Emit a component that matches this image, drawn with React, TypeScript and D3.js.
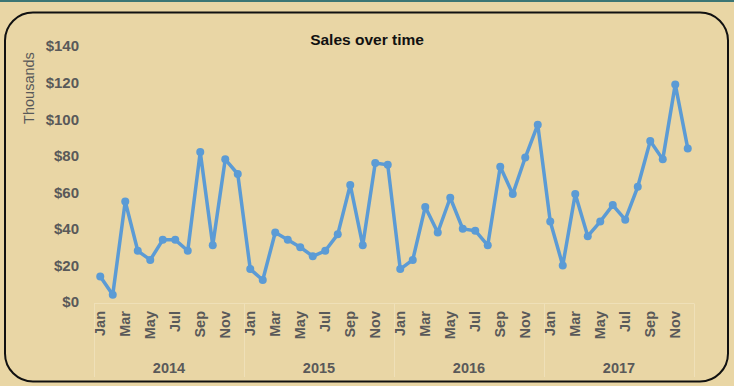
import React from "react";
import * as d3 from "d3";

const years = ["2014", "2015", "2016", "2017"];
const months = ["Jan", "Feb", "Mar", "Apr", "May", "Jun", "Jul", "Aug", "Sep", "Oct", "Nov", "Dec"];

// monthly sales, in thousands of dollars
const sales2014 = [14, 4, 55, 28, 23, 34, 34, 28, 82, 31, 78, 70];
const sales2015 = [18, 12, 38, 34, 30, 25, 28, 37, 64, 31, 76, 75];
const sales2016 = [18, 23, 52, 38, 57, 40, 39, 31, 74, 59, 79, 97];
const sales2017 = [44, 20, 59, 36, 44, 53, 45, 63, 88, 78, 119, 84];

const yTicks = [0, 20, 40, 60, 80, 100, 120, 140];

const W = 734;
const H = 386;
const BG = "#E9D6A5";
const AXIS = "#595959";
const LINE = "#5B9BD5";
const FONT = "'Liberation Sans', Arial, sans-serif";

export default function App() {
  const series = [sales2014, sales2015, sales2016, sales2017];
  const data = years.flatMap((yr, i) =>
    months.map((m, j) => ({ key: `${yr}-${m}`, year: yr, month: m, value: series[i][j] }))
  );

  const x = d3
    .scaleBand<string>()
    .domain(data.map(d => d.key))
    .range([94, 694]);
  const y = d3.scaleLinear().domain([0, 140]).range([302, 46]);
  const cx = (k: string) => (x(k) ?? 0) + x.bandwidth() / 2;

  const line = d3
    .line<(typeof data)[number]>()
    .x(d => cx(d.key))
    .y(d => y(d.value));

  const yearW = x.bandwidth() * 12;

  return (
    <svg
      width={W}
      height={H}
      style={{ position: "absolute", left: 0, top: 0 }}
      fontFamily={FONT}
    >
      <rect x={0} y={0} width={W} height={H} fill={BG} />
      <rect x={0} y={0} width={W} height={2} fill="#3C7674" />
      <rect x={5} y={12.5} width={723} height={369} rx={28} ry={28} fill={BG} stroke="#111" strokeWidth={2} />

      {/* title */}
      <text x={367} y={45} textAnchor="middle" fontSize={15.5} fontWeight="bold" fill="#111">
        Sales over time
      </text>

      {/* y axis */}
      <text
        transform={`translate(34,88) rotate(-90)`}
        textAnchor="middle"
        fontSize={14.5}
        fill={AXIS}
      >
        Thousands
      </text>
      {yTicks.map(t => (
        <text key={t} x={79} y={y(t)} dy="0.36em" textAnchor="end" fontSize={15} fontWeight="bold" fill={AXIS}>
          {`$${t}`}
        </text>
      ))}

      {/* category axis frame */}
      <g stroke="#EFE0B8" strokeWidth={1} fill="none">
        <line x1={94} x2={694} y1={303.5} y2={303.5} />
        {d3.range(years.length + 1).map(i => (
          <line key={i} x1={94.5 + i * yearW} x2={94.5 + i * yearW} y1={303.5} y2={377} />
        ))}
      </g>

      {/* month labels, every other month */}
      {data
        .filter((_, i) => i % 2 === 0)
        .map(d => (
          <text
            key={d.key}
            transform={`translate(${cx(d.key) + 5},311) rotate(-90)`}
            textAnchor="end"
            fontSize={14.5}
            fontWeight="bold"
            fill={AXIS}
          >
            {d.month}
          </text>
        ))}

      {/* year labels */}
      {years.map((yr, i) => (
        <text
          key={yr}
          x={94 + yearW * (i + 0.5)}
          y={373}
          textAnchor="middle"
          fontSize={14.5}
          fontWeight="bold"
          fill={AXIS}
        >
          {yr}
        </text>
      ))}

      {/* series */}
      <path d={line(data) ?? ""} fill="none" stroke={LINE} strokeWidth={3.5} strokeLinejoin="round" />
      {data.map(d => (
        <circle key={d.key} cx={cx(d.key)} cy={y(d.value)} r={4} fill={LINE} />
      ))}
    </svg>
  );
}
